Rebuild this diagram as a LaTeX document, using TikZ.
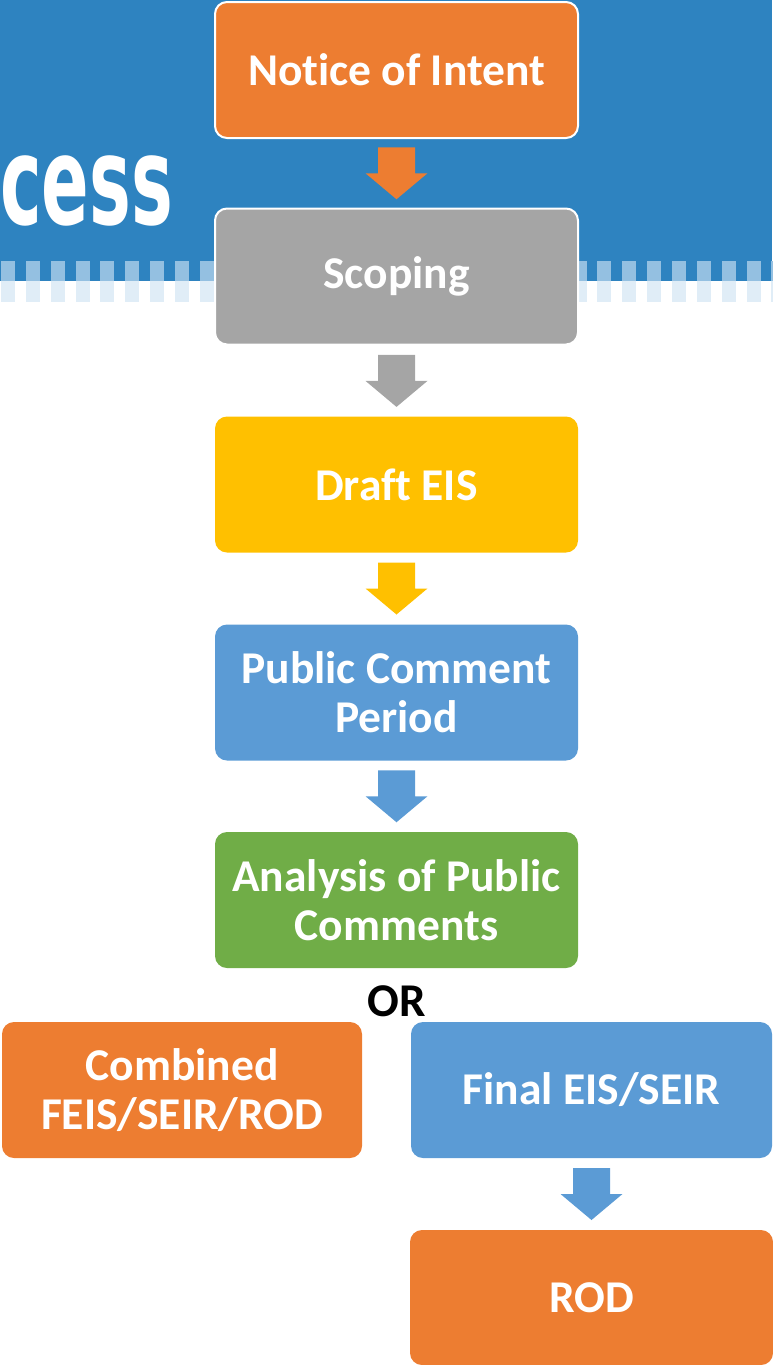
\documentclass[tikz,border=0pt]{standalone}
\usepackage{fontspec}
\setmainfont{Carlito}[Ligatures=NoCommon]
\newfontfamily\cessfont{DejaVu Sans}[BoldFont={* Bold}]
\usetikzlibrary{calc}
\definecolor{bannerblue}{HTML}{2E83C0}
\definecolor{stripeon}{HTML}{94C0E1}
\definecolor{stripeoff}{HTML}{E0EDF7}
\definecolor{boxorange}{HTML}{ED7D31}
\definecolor{boxgray}{HTML}{A5A5A5}
\definecolor{boxgold}{HTML}{FFC000}
\definecolor{boxblue}{HTML}{5B9BD5}
\definecolor{boxgreen}{HTML}{70AD47}
\tikzset{
  stepbox/.style={rectangle, rounded corners=12pt, minimum width=363pt, minimum height=136pt,
    inner sep=0pt, align=center, text=white, font=\fontsize{45.5}{49}\selectfont\bfseries},
  framed/.style={draw=white, line width=2pt},
  blockarrow/.pic={
    \fill[pic actions] (-18.5,-26) -- (18.5,-26) -- (18.5,0) -- (31,0) -- (0,26) -- (-31,0) -- (-18.5,0) -- cycle;
  }
}
\begin{document}
\begin{tikzpicture}[x=1pt,y=-1pt]
\useasboundingbox (0,0) rectangle (772,1365);
% banner
\fill[bannerblue] (0,0) rectangle (772,281);
\foreach \k in {0,...,31}{
  \pgfmathsetmacro{\xx}{1+24.85*\k}
  \fill[stripeon] (\xx,261) rectangle ({\xx+14},281);
  \fill[stripeoff] (\xx,281) rectangle ({\xx+14},302);
}
\node[anchor=base west, inner sep=0pt, text=white] (title) at (0,224)
  {\scalebox{0.6}[1.05]{\fontsize{117}{117}\cessfont\bfseries cess}};
% main column
\node[stepbox, framed, fill=boxorange] (noi) at (396.5,70) {Notice of Intent};
\node[stepbox, framed, fill=boxgray] (scp) at (396.5,276.5) {Scoping};
\node[stepbox, fill=boxgold] (deis) at (396.5,484.5) {Draft EIS};
\node[stepbox, fill=boxblue] (pcp) at (396.5,692.5) {Public Comment\\Period};
\node[stepbox, fill=boxgreen] (apc) at (396.5,900) {Analysis of Public\\Comments};
\node[inner sep=0pt, font=\fontsize{47}{49}\selectfont\bfseries, text=black] (or) at (397,1001) {OR};
\node[stepbox, minimum width=360pt, fill=boxorange] (comb) at (182,1090) {Combined\\FEIS/SEIR/ROD};
\node[stepbox, minimum width=361pt, fill=boxblue] (feis) at (591.5,1090) {Final EIS/SEIR};
\node[stepbox, minimum height=135pt, fill=boxorange] (rod) at (591.5,1297.5) {ROD};
% block arrows
\pic[fill=boxorange] at ($(noi.south)!0.5!(scp.north)$) {blockarrow};
\pic[fill=boxgray] at ($(scp.south)!0.5!(deis.north)$) {blockarrow};
\pic[fill=boxgold] at ($(deis.south)!0.5!(pcp.north)$) {blockarrow};
\pic[fill=boxblue] at ($(pcp.south)!0.5!(apc.north)$) {blockarrow};
\pic[fill=boxblue] at ($(feis.south)!0.5!(rod.north)$) {blockarrow};
\end{tikzpicture}
\end{document}
